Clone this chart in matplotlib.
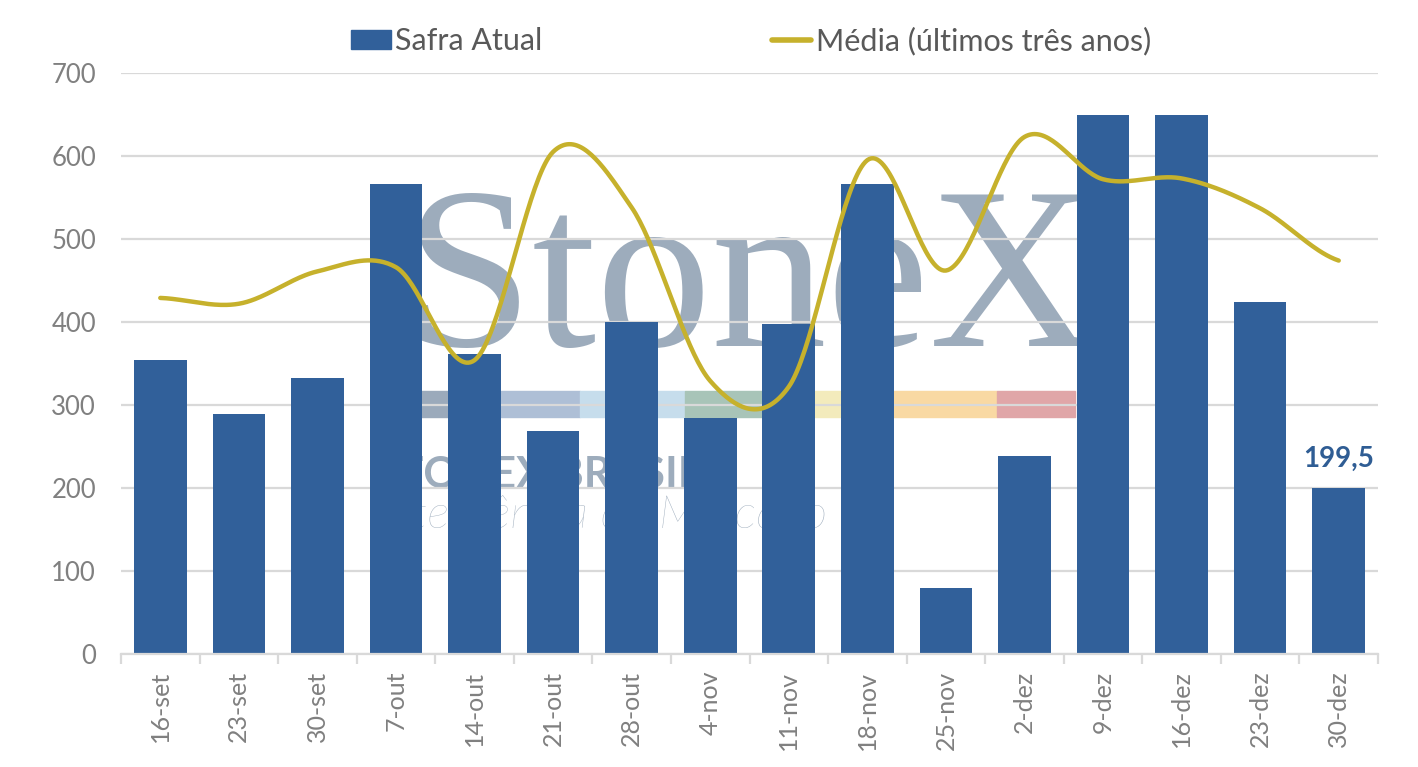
import numpy as np
import matplotlib
matplotlib.use("Agg")
import matplotlib.pyplot as plt
from matplotlib.patches import Rectangle, Patch
from matplotlib.lines import Line2D

categories = ["16-set", "23-set", "30-set", "7-out", "14-out", "21-out", "28-out", "4-nov",
              "11-nov", "18-nov", "25-nov", "2-dez", "9-dez", "16-dez", "23-dez", "30-dez"]
safra_atual = [354, 289, 332, 566, 361, 269, 400, 284, 398, 566, 80, 238, 650, 650, 424, 199.5]
media_3anos = [429, 422, 461, 466, 354, 605, 538, 329, 322, 595, 462, 623, 572, 573, 537, 474]
y_ticks = [0, 100, 200, 300, 400, 500, 600, 700]

BAR = "#31609A"
LINE = "#C6B12C"
GRID = "#D9D9D9"
TXT = "#808080"

plt.rcParams['font.family'] = ['Lato', 'DejaVu Sans']

fig = plt.figure(figsize=(14.18, 7.67), dpi=100)
fig.patch.set_facecolor("white")

# watermark (background logo), drawn behind the chart
wm = "#9DACBC"
fig.text(405/1418, 1-346/767, "StoneX", family="Liberation Serif", fontsize=166,
         color=wm, ha="left", va="baseline", zorder=0)
bands = [(421, 500, "#9BAABB"), (500, 580, "#AEBFD6"), (580, 685, "#C6DDEC"),
         (685, 788, "#A8C4B8"), (788, 892, "#F3EBBC"), (892, 997, "#F9D9A3"),
         (997, 1075, "#E0A6A8")]
for x0, x1, c in bands:
    fig.patches.append(Rectangle((x0/1418, 1-417/767), (x1-x0)/1418, 26/767,
                                 transform=fig.transFigure, color=c, zorder=0))
fig.text(374/1418, 1-488/767, "STONEX BRASIL",
         fontsize=31, fontweight="bold", color=wm, ha="left", va="baseline", zorder=0)
fig.text(377/1418, 1-528/767, "Inteligência de Mercado", fontsize=34, fontweight="light",
         style="italic", color=wm, ha="left", va="baseline", zorder=0)

ax = fig.add_axes([121/1418, 1-654/767, (1378-121)/1418, (654-73)/767])
ax.set_facecolor("none")
ax.set_zorder(2)

n = len(categories)
x = np.arange(n)

ax.set_ylim(0, 700)
ax.set_xlim(-0.5, n - 0.5)
ax.set_yticks(y_ticks)
ax.yaxis.grid(True, color=GRID, lw=1.6, zorder=1)
ax.set_axisbelow(True)

ax.bar(x, safra_atual, width=0.67, color=BAR, zorder=2, label="Safra Atual")

# smoothed line (Catmull-Rom, as Excel's smoothed line)
pts = np.array(media_3anos, dtype=float)
xs, ys = [], []
for i in range(n - 1):
    p0 = pts[i - 1] if i > 0 else pts[i]
    p1, p2 = pts[i], pts[i + 1]
    p3 = pts[i + 2] if i + 2 < n else pts[i + 1]
    t = np.linspace(0, 1, 40)
    yy = 0.5 * ((2 * p1) + (-p0 + p2) * t + (2 * p0 - 5 * p1 + 4 * p2 - p3) * t**2
                + (-p0 + 3 * p1 - 3 * p2 + p3) * t**3)
    xs.append(i + t)
    ys.append(yy)
ax.plot(np.concatenate(xs), np.concatenate(ys), color=LINE, lw=3.2, zorder=3,
        solid_capstyle="round")

ax.annotate("199,5", (x[-1], safra_atual[-1]), xytext=(0, 12), textcoords="offset points",
            ha="center", va="bottom", fontsize=20, fontweight="bold", color="#2F5D94")

for s in ["top", "right", "left"]:
    ax.spines[s].set_visible(False)
ax.spines["bottom"].set_color(GRID)
ax.spines["bottom"].set_linewidth(1.6)

ax.set_xticks(np.arange(-0.5, n, 1.0))
ax.set_xticklabels([])
ax.tick_params(axis="x", which="major", length=7, width=1.6, color=GRID)
ax.set_xticks(x, minor=True)
ax.set_xticklabels(categories, minor=True, rotation=90, fontsize=18, color=TXT)
ax.tick_params(axis="x", which="minor", length=0, pad=12)
ax.tick_params(axis="y", length=0, pad=18, labelsize=18.5, labelcolor=TXT)

handles = [Patch(facecolor=BAR, edgecolor=BAR),
           Line2D([0], [0], color=LINE, lw=4, solid_capstyle="round")]
fig.legend(handles, ["Safra Atual", "Média (últimos três anos)"], loc="center",
           bbox_to_anchor=(751/1418, 1-41/767), ncol=2, frameon=False, fontsize=22,
           labelcolor="#595959", handlelength=1.3, handleheight=0.6, handletextpad=0.15,
           columnspacing=7.5)

fig.savefig("out.png", dpi=100, facecolor="white")
